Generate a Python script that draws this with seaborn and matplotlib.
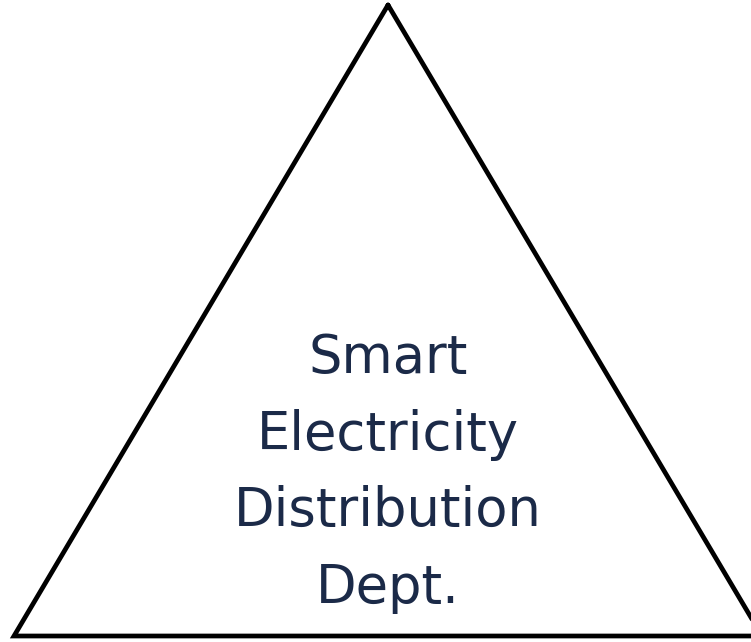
import matplotlib
matplotlib.use("Agg")
import matplotlib.pyplot as plt
import seaborn as sns
import pandas as pd

sns.set_theme(style="white")
plt.rcParams['font.family'] = ['DejaVu Sans']

# Triangle outline vertices (closed path)
tri_x = [388, 762, 14, 388]
tri_y = [5, 636, 636, 5]
order = [0, 1, 2, 3]

# Text lines inside the triangle
label_lines = ["Smart", "Electricity", "Distribution", "Dept."]
label_y = [358, 435, 511, 588]

df = pd.DataFrame({"x": tri_x, "y": tri_y, "order": order})

fig = plt.figure(figsize=(7.51, 6.42), dpi=100)
ax = fig.add_axes([0, 0, 1, 1])
sns.lineplot(data=df, x="x", y="y", sort=False, estimator=None, color="black",
             linewidth=3.4, ax=ax, solid_joinstyle="miter")
for txt, yy in zip(label_lines, label_y):
    ax.text(388, yy, txt, ha="center", va="center", fontsize=38, color="#1b2a48")
ax.set_xlim(0, 751)
ax.set_ylim(642, 0)
ax.axis("off")
fig.savefig("out.png", dpi=100, facecolor="white")
